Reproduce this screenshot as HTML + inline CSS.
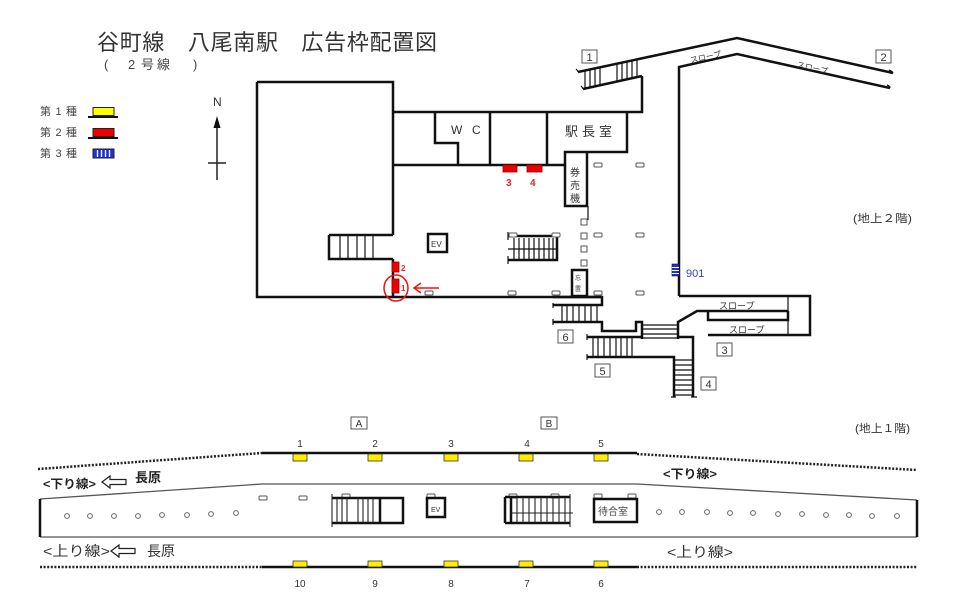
<!DOCTYPE html>
<html><head><meta charset="utf-8"><style>
html,body{margin:0;padding:0;background:#fff;}
svg{display:block;}
text{font-family:"Liberation Sans","Noto Sans CJK JP",sans-serif;}
</style></head><body>
<svg width="960" height="605" viewBox="0 0 960 605" xmlns="http://www.w3.org/2000/svg">
<rect width="960" height="605" fill="#fff"/>

<!-- Title -->
<text x="97" y="50" font-size="22" fill="#333" textLength="340" lengthAdjust="spacing">谷町線　八尾南駅　広告枠配置図</text>
<g font-size="13" fill="#444">
<text x="104" y="69">(</text><text x="128" y="69">2</text><text x="141" y="69">号</text><text x="157" y="69">線</text><text x="193" y="69">)</text>
</g>

<!-- Legend -->
<g font-size="11" fill="#444">
<text x="40" y="115" textLength="37" lengthAdjust="spacing">第1種</text>
<text x="40" y="136" textLength="37" lengthAdjust="spacing">第2種</text>
<text x="40" y="157" textLength="37" lengthAdjust="spacing">第3種</text>
</g>
<rect x="93" y="107.5" width="21" height="8" fill="#ffff00" stroke="#222" stroke-width="1"/>
<line x1="88" y1="117" x2="118" y2="117" stroke="#111" stroke-width="2"/>
<rect x="93" y="128.5" width="21" height="8" fill="#ee0000" stroke="#222" stroke-width="1"/>
<line x1="88" y1="138" x2="118" y2="138" stroke="#111" stroke-width="2"/>
<rect x="93" y="149" width="21" height="9" fill="#2233cc" stroke="#222" stroke-width="1"/>
<g stroke="#fff" stroke-width="1.3"><line x1="97.5" y1="150" x2="97.5" y2="157"/><line x1="101.5" y1="150" x2="101.5" y2="157"/><line x1="105.5" y1="150" x2="105.5" y2="157"/><line x1="109.5" y1="150" x2="109.5" y2="157"/></g>

<!-- North arrow -->
<text x="213" y="106" font-size="12" fill="#333">N</text>
<line x1="217" y1="124" x2="217" y2="180" stroke="#222" stroke-width="1.5"/>
<polygon points="217,116 213.5,128 220.5,128" fill="#111"/>
<line x1="208" y1="163" x2="226" y2="163" stroke="#222" stroke-width="1.5"/>

<!-- ================= Upper floor ================= -->
<g fill="none" stroke="#111" stroke-width="2.5" stroke-linejoin="miter">
<!-- big box -->
<path d="M257,82 H393 V235 M393,259 V297 M257,82 V297 H602"/>
<!-- left stairs -->
<path d="M329,235 H393 M329,235 V259 H393"/>
<!-- rooms -->
<path d="M393,112 H642 V76"/>
<path d="M393,165 H565"/>
<path d="M435,112 V143 H458 V165"/>
<path d="M490,112 V165"/>
<path d="M547,112 V165"/>
<path d="M627,112 V152 H565 V206 H587 V152"/>
<!-- entrance 1 / 2 ramp -->
<path d="M578,72 L737,38 L893,73"/>
<path d="M583,89 L642,76"/>
<path d="M679,296 V67 L737,54 L890,88"/>
<!-- EV -->
<rect x="428" y="234" width="19" height="18"/>
<!-- stairs center -->
<path d="M508,236 H557 V260 H508"/>
<!-- 忘 box -->
<rect x="572" y="270" width="15" height="26"/>
<!-- stair 6 -->
<path d="M553,297 H602 V305 H553"/>
<path d="M553,322 H602 V331 H636 V322 H642 V339"/>
<!-- stair 5 -->
<path d="M587,337 H642"/>
<path d="M587,357 H674 V397"/>
<!-- right structure -->
<path d="M679,296 H810 V335 H708"/>
<path d="M678,339 V322 L697,311 H788"/>
<path d="M708,311 V320 H788 V311"/>
<path d="M678,337 H693 V397"/>
</g>
<g stroke="#111" stroke-width="1.2" fill="none">
<!-- left stair treads -->
<path d="M340,235V259 M348,235V259 M357,235V259 M365,235V259 M373,235V259"/>
<!-- entrance 1 treads -->
<path d="M585,70.5V88.6 M590,69.4V87.5 M595,68.4V86.4 M600,67.3V85.4 M617,63.7V81.6 M622,62.6V80.5 M627,61.5V79.4 M632,60.5V78.3 M637,59.5V77.1"/>
<path d="M576,69 q2,2 2,3 M581,86 q2,2 2,3 M889,70 q3,1 4,3 M887,85 q3,1 3,3"/>
<!-- center stair treads -->
<path d="M514,238V260 M519,238V260 M524,238V260 M529,238V260 M534,238V260 M539,238V260 M544,238V260 M549,238V260 M553,238V260"/>
<path d="M508,249 H557"/>
<path d="M508,232 V240 M508,256 V264"/>
<!-- 券売機 thin line -->
<path d="M588,206 V220"/>
<!-- stair 6 treads -->
<path d="M562,305V322 M567,305V322 M573,305V322 M579,305V322 M585,305V322 M591,305V322 M597,305V322"/>
<path d="M553,303 V308 M553,319 V325"/>
<!-- corridor treads -->
<path d="M642,325H678 M642,329H678 M642,334H678 M642,338H678"/>
<!-- stair 5 treads -->
<path d="M593,337V357 M598,337V357 M604,337V357 M610,337V357 M616,337V357 M621,337V357 M627,337V357 M632,337V357"/>
<path d="M587,334 V340 M587,354 V360"/>
<!-- stair 4 treads -->
<path d="M674,360H693 M674,365H693 M674,370H693 M674,375H693 M674,380H693 M674,385H693 M674,390H693 M674,395H693"/>
<path d="M671,397H676 M691,397H697"/>
<!-- ramp thin -->
<path d="M788,296 V335"/>
</g>

<!-- pillars upper -->
<g fill="#fff" stroke="#555" stroke-width="1">
<rect x="594" y="163" width="8" height="4" rx="1"/>
<rect x="636" y="163" width="8" height="4" rx="1"/>
<rect x="594" y="233" width="8" height="4" rx="1"/>
<rect x="636" y="233" width="8" height="4" rx="1"/>
<rect x="509" y="233" width="8" height="4" rx="1"/>
<rect x="552" y="233" width="8" height="4" rx="1"/>
<rect x="425" y="291" width="8" height="4" rx="1"/>
<rect x="508" y="291" width="8" height="4" rx="1"/>
<rect x="552" y="291" width="8" height="4" rx="1"/>
<rect x="594" y="291" width="8" height="4" rx="1"/>
<rect x="636" y="291" width="8" height="4" rx="1"/>
<rect x="581" y="219" width="6" height="6"/>
<rect x="581" y="233" width="6" height="6"/>
<rect x="581" y="246" width="6" height="6"/>
<rect x="581" y="260" width="6" height="6"/>
</g>

<!-- red ads upper -->
<g fill="#ee0000" stroke="#900" stroke-width="0.8">
<rect x="503" y="165" width="14" height="7"/>
<rect x="527" y="165" width="15" height="7"/>
<rect x="392" y="262" width="7" height="10"/>
<rect x="392" y="279" width="7" height="14"/>
</g>
<g fill="#e22" font-size="10" font-weight="bold">
<text x="506" y="186">3</text>
<text x="530" y="186">4</text>
<text x="401" y="271" font-size="8">2</text>
<text x="401" y="291" font-size="8">1</text>
</g>
<ellipse cx="396" cy="288" rx="12" ry="13" fill="none" stroke="#e11" stroke-width="1.5"/>
<line x1="414" y1="288" x2="439" y2="288" stroke="#e11" stroke-width="1.5"/>
<path d="M421,283 L414,288 L421,293" fill="none" stroke="#e11" stroke-width="1.5"/>

<!-- blue ad 901 -->
<rect x="672" y="264" width="7" height="12" fill="#2233cc" stroke="#112" stroke-width="0.6"/>
<g stroke="#fff" stroke-width="1"><line x1="672" y1="267.5" x2="679" y2="267.5"/><line x1="672" y1="270.5" x2="679" y2="270.5"/><line x1="672" y1="273.5" x2="679" y2="273.5"/></g>
<text x="686" y="277" font-size="11" fill="#3344cc">901</text>

<!-- upper labels -->
<g fill="#333">
<text x="451" y="134" font-size="12">W</text>
<text x="472" y="134" font-size="12">C</text>
<text x="565" y="136" font-size="13" textLength="47" lengthAdjust="spacing">駅長室</text>
<text x="570" y="176" font-size="10">券</text>
<text x="570" y="189" font-size="10">売</text>
<text x="570" y="202" font-size="10">機</text>
<text x="431" y="247" font-size="8">EV</text>
<text x="575" y="280" font-size="6">忘</text>
<text x="575" y="291" font-size="6">置</text>
<text x="853" y="222" font-size="11" textLength="59" lengthAdjust="spacingAndGlyphs">(地上２階)</text>
<text x="690" y="61" font-size="8" transform="rotate(-12 700 58)">スロープ</text>
<text x="797" y="70" font-size="8" transform="rotate(13 810 66)">スロープ</text>
<text x="719" y="309" font-size="9">スロープ</text>
<text x="729" y="333" font-size="9">スロープ</text>
</g>
<!-- exit number boxes -->
<g fill="#fff" stroke="#555" stroke-width="1">
<rect x="582" y="50" width="15" height="13"/>
<rect x="876" y="50" width="15" height="13"/>
<rect x="558" y="330" width="15" height="13"/>
<rect x="595" y="364" width="15" height="13"/>
<rect x="717" y="343" width="15" height="13"/>
<rect x="701" y="377" width="15" height="13"/>
<rect x="351" y="417" width="16" height="12"/>
<rect x="541" y="417" width="16" height="12"/>
</g>
<g fill="#333" font-size="11" text-anchor="middle">
<text x="589.5" y="61">1</text>
<text x="883.5" y="61">2</text>
<text x="565.5" y="341">6</text>
<text x="602.5" y="375">5</text>
<text x="724.5" y="354">3</text>
<text x="708.5" y="388">4</text>
<text x="359" y="427" font-size="10">A</text>
<text x="549" y="427" font-size="10">B</text>
</g>

<!-- ================= Lower floor ================= -->
<text x="855" y="432" font-size="11" fill="#333" textLength="55" lengthAdjust="spacingAndGlyphs">(地上１階)</text>

<g fill="none" stroke="#111" stroke-width="2.5">
<path d="M262,453 H637"/>
<path d="M262,567 H637"/>
</g>
<g fill="none" stroke="#222" stroke-width="2.5" stroke-dasharray="2 1.6">
<path d="M38,469 L262,453"/>
<path d="M637,454 L917,470"/>
<path d="M40,567 H262"/>
<path d="M637,567 H917"/>
</g>
<g fill="none" stroke="#555" stroke-width="1.3">
<path d="M40,499 L262,484 H637 L917,500"/>
<path d="M40,537 H917"/>
</g>
<g stroke="#111" stroke-width="2.5"><path d="M40,499 V537 M917,500 V537"/></g>

<!-- circles -->
<g fill="#fff" stroke="#666" stroke-width="1">
<circle cx="67" cy="516" r="2.4"/><circle cx="90" cy="516" r="2.4"/><circle cx="114" cy="516" r="2.4"/><circle cx="138" cy="516" r="2.4"/><circle cx="162" cy="515" r="2.4"/><circle cx="187" cy="515" r="2.4"/><circle cx="211" cy="514" r="2.4"/><circle cx="236" cy="513" r="2.4"/>
<circle cx="659" cy="512" r="2.4"/><circle cx="682" cy="512" r="2.4"/><circle cx="707" cy="512" r="2.4"/><circle cx="730" cy="513" r="2.4"/><circle cx="753" cy="513" r="2.4"/><circle cx="778" cy="514" r="2.4"/><circle cx="802" cy="514" r="2.4"/><circle cx="826" cy="515" r="2.4"/><circle cx="849" cy="515" r="2.4"/><circle cx="872" cy="516" r="2.4"/><circle cx="897" cy="516" r="2.4"/>
</g>

<!-- pillars lower -->
<g fill="#fff" stroke="#555" stroke-width="1">
<rect x="259" y="496" width="8" height="4" rx="1"/>
<rect x="299" y="496" width="8" height="4" rx="1"/>
<rect x="342" y="494" width="8" height="4" rx="1"/>
<rect x="427" y="494" width="8" height="4" rx="1"/>
<rect x="509" y="494" width="8" height="4" rx="1"/>
<rect x="551" y="494" width="8" height="4" rx="1"/>
<rect x="594" y="494" width="8" height="4" rx="1"/>
<rect x="628" y="494" width="8" height="4" rx="1"/>
</g>

<!-- stair A -->
<g fill="none" stroke="#111" stroke-width="2.5">
<path d="M332,498 H403 V523 H332"/>
<path d="M380,498 V523"/>
<rect x="427" y="498" width="18" height="19"/>
<path d="M505,497 H570 M505,523 H570 M505,497 V523 M511,497 V523"/>
<rect x="594" y="499" width="43" height="23"/>
</g>
<g fill="none" stroke="#222" stroke-width="1.1">
<path d="M332,494 V527"/>
<path d="M337,498V523 M342,498V523 M347,498V523 M358,498V523 M363,498V523 M368,498V523 M373,498V523"/>
<path d="M517,497V523 M523,497V523 M529,497V523 M535,497V523 M541,497V523 M547,497V523 M553,497V523 M559,497V523 M565,497V523"/>
<path d="M511,513 H573"/>
<path d="M570,494 V527"/>
</g>
<text x="431" y="512" font-size="7" fill="#333">EV</text>
<text x="598" y="515" font-size="10" fill="#444">待合室</text>

<!-- yellow ads -->
<g fill="#ffee00" stroke="#333" stroke-width="0.8">
<rect x="293" y="454" width="14" height="7"/><rect x="368" y="454" width="14" height="7"/><rect x="444" y="454" width="14" height="7"/><rect x="519" y="454" width="14" height="7"/><rect x="594" y="454" width="14" height="7"/>
<rect x="293" y="561" width="14" height="6"/><rect x="368" y="561" width="14" height="6"/><rect x="444" y="561" width="14" height="6"/><rect x="519" y="561" width="14" height="6"/><rect x="594" y="561" width="14" height="6"/>
</g>
<g fill="#333" font-size="10" text-anchor="middle">
<text x="300" y="447">1</text><text x="375" y="447">2</text><text x="451" y="447">3</text><text x="527" y="447">4</text><text x="601" y="447">5</text>
<text x="300" y="587">10</text><text x="375" y="587">9</text><text x="451" y="587">8</text><text x="527" y="587">7</text><text x="601" y="587">6</text>
</g>

<!-- direction labels -->
<g fill="#222">
<text x="43" y="488" font-size="12" font-weight="bold" textLength="53" lengthAdjust="spacingAndGlyphs">&lt;下り線&gt;</text>
<text x="135" y="482" font-size="13" font-weight="bold">長原</text>
<text x="663" y="478" font-size="12" font-weight="bold" textLength="54" lengthAdjust="spacingAndGlyphs">&lt;下り線&gt;</text>
</g>
<g fill="#333">
<text x="43" y="556" font-size="14" textLength="67" lengthAdjust="spacingAndGlyphs">&lt;上り線&gt;</text>
<text x="147" y="556" font-size="14">長原</text>
<text x="667" y="557" font-size="14" textLength="66" lengthAdjust="spacingAndGlyphs">&lt;上り線&gt;</text>
</g>
<g fill="#fff" stroke="#222" stroke-width="1.2">
<polygon points="102,482 110,476 110,479.5 126,479.5 126,484.5 110,484.5 110,488"/>
<polygon points="111,551 119,545 119,548.5 135,548.5 135,553.5 119,553.5 119,557"/>
</g>
</svg>
</body></html>
